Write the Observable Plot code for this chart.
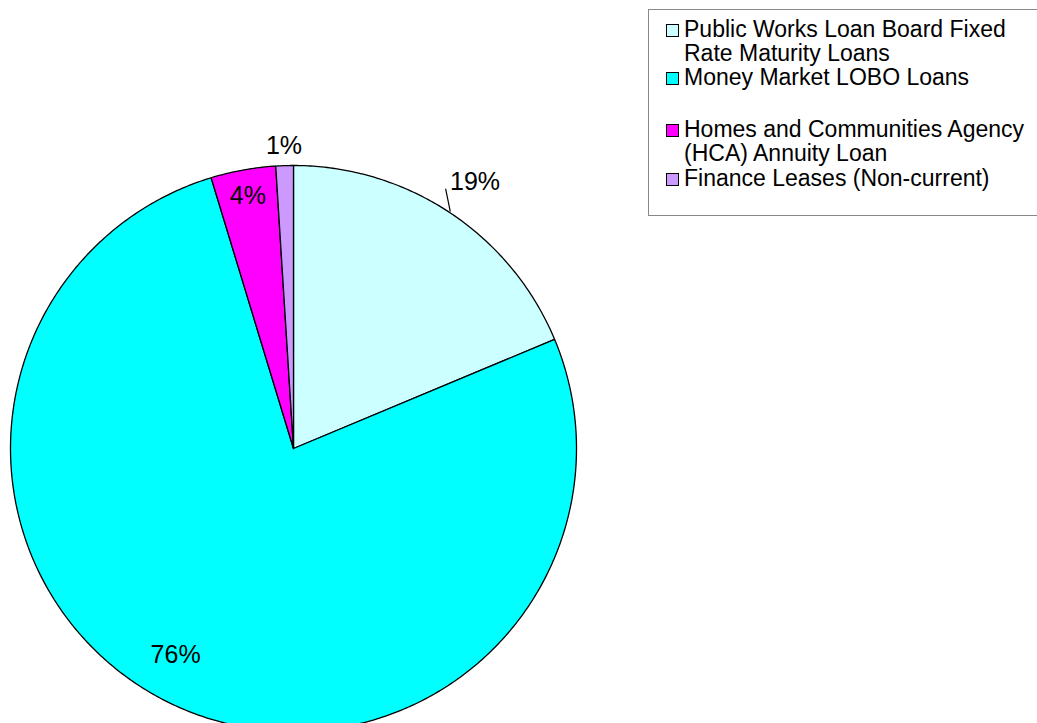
<!DOCTYPE html>
<html>
<head>
<meta charset="utf-8">
<script src="https://cdn.jsdelivr.net/npm/d3@7"></script>
<script src="https://cdn.jsdelivr.net/npm/@observablehq/plot@0.6"></script>
<style>
  html, body { margin: 0; padding: 0; background: #fff; overflow: hidden; }
  #wrap { position: relative; width: 1037px; height: 723px; }
  #legend { position: absolute; left: 648px; top: 9px; width: 420px; height: 207px;
            border: 1px solid #888; box-sizing: border-box; background: #fff;
            font-family: "Liberation Sans", Arial, sans-serif; font-size: 23px; color: #000; }
  .item { position: absolute; left: 0; line-height: 24px; }
  .sw { position: absolute; left: 17px; top: 7px; width: 11px; height: 11px; border: 1px solid #000; }
  .tx { position: absolute; left: 35px; white-space: nowrap; }
</style>
</head>
<body>
<div id="wrap"></div>
<script>
const categories = [
  "Public Works Loan Board Fixed Rate Maturity Loans",
  "Money Market LOBO Loans",
  "Homes and Communities Agency (HCA) Annuity Loan",
  "Finance Leases (Non-current)"
];
const legendLines = [
  ["Public Works Loan Board Fixed", "Rate Maturity Loans"],
  ["Money Market LOBO Loans"],
  ["Homes and Communities Agency", "(HCA) Annuity Loan"],
  ["Finance Leases (Non-current)"]
];
const shares = [18.7, 76.6, 3.7, 1.0];
const pctLabels = ["19%", "76%", "4%", "1%"];
const colors = ["#CCFFFF", "#00FFFF", "#FF00FF", "#CC99FF"];

const arcs = d3.pie().sort(null).startAngle(0).endAngle(2 * Math.PI)(shares);

// slice polygons in unit-circle data space (y up, angle clockwise from top)
const polys = [];
arcs.forEach((a, i) => {
  const n = Math.max(4, Math.ceil((a.endAngle - a.startAngle) / 0.01));
  polys.push({k: i, x: 0, y: 0});
  for (let j = 0; j <= n; j++) {
    const t = a.startAngle + (a.endAngle - a.startAngle) * j / n;
    polys.push({k: i, x: Math.sin(t), y: Math.cos(t)});
  }
  polys.push({k: i, x: 0, y: 0});
});

// label placement (radius factor and angular nudge, as in the original layout)
const labelR = [1.14, 0.84, 0.905, 1.07];
const labelDA = [0.01, 0.079, 0, 0];
const labels = arcs.map((a, i) => {
  const m = (a.startAngle + a.endAngle) / 2 + labelDA[i];
  return {x: labelR[i] * Math.sin(m), y: labelR[i] * Math.cos(m), t: pctLabels[i]};
});
const a0 = arcs[0], mid0 = (a0.startAngle + a0.endAngle) / 2;
const leader = [
  {x: 1.005 * Math.sin(mid0 - 0.004), y: 1.005 * Math.cos(mid0 - 0.004)},
  {x: 1.063 * Math.sin(mid0 - 0.057), y: 1.063 * Math.cos(mid0 - 0.057)}
];

const chart = Plot.plot({
  width: 1037,
  height: 723,
  margin: 0,
  x: {domain: [-1, 1], range: [10, 576], axis: null},
  y: {domain: [-1, 1], range: [731, 165], axis: null},
  color: {domain: [0, 1, 2, 3], range: colors},
  style: {fontFamily: "'Liberation Sans', Arial, sans-serif", background: "#fff"},
  marks: [
    Plot.line(polys, {x: "x", y: "y", z: "k", fill: (d) => colors[d.k], stroke: "#000", strokeWidth: 1.3, curve: "linear"}),
    Plot.line(leader, {x: "x", y: "y", stroke: "#000", strokeWidth: 1.2}),
    Plot.text(labels, {x: "x", y: "y", text: "t", fontSize: 25, fill: "#000", textAnchor: "middle", lineAnchor: "middle"})
  ]
});
const wrap = document.getElementById("wrap");
wrap.appendChild(chart);

const lg = document.createElement("div");
lg.id = "legend";
const tops = [7, 54.5, 106.5, 156];
legendLines.forEach((lines, i) => {
  const it = document.createElement("div");
  it.className = "item";
  it.style.top = tops[i] + "px";
  const sw = document.createElement("div");
  sw.className = "sw";
  sw.style.background = colors[i];
  const tx = document.createElement("div");
  tx.className = "tx";
  tx.innerHTML = lines.join("<br>");
  it.appendChild(sw);
  it.appendChild(tx);
  lg.appendChild(it);
});
wrap.appendChild(lg);
</script>
</body>
</html>
